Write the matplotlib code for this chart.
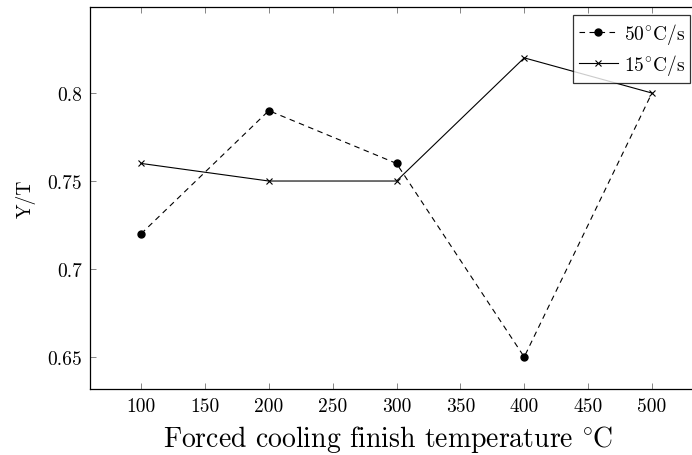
import numpy as np
import matplotlib
matplotlib.use("Agg")
import matplotlib.pyplot as plt

# data
temps = [100, 200, 300, 400, 500]
ratio_50 = [0.72, 0.79, 0.76, 0.65, 0.80]
ratio_15 = [0.76, 0.75, 0.75, 0.82, 0.80]
xticks = [100, 150, 200, 250, 300, 350, 400, 450, 500]
yticks = [0.65, 0.7, 0.75, 0.8]
ytick_labels = ["0.65", "0.7", "0.75", "0.8"]

plt.rcParams["font.family"] = ["cmr10", "DejaVu Serif"]
plt.rcParams["mathtext.fontset"] = "cm"
plt.rcParams["axes.formatter.use_mathtext"] = True

fig = plt.figure(figsize=(6.92, 4.56), dpi=100)
# right part of the axes is cut off in the reference
ax = fig.add_axes([90 / 692, 66 / 456, 613 / 692, 382 / 456])

# the last 50C/s point shows no dot in the reference
ax.plot(
    temps, ratio_50, color="black", linestyle=(0, (5, 4)), linewidth=0.8,
    marker="o", markersize=5, markevery=[0, 1, 2, 3],
    label=r"$\mathrm{50}^{\!\circ}\!\mathrm{C/s}$",
)
ax.plot(
    temps, ratio_15, color="black", linestyle="-", linewidth=0.8,
    marker="x", markersize=5, markeredgewidth=0.8,
    label=r"$\mathrm{15}^{\!\circ}\!\mathrm{C/s}$",
)

ax.set_xlim(60, 540)
ax.set_ylim(0.6318, 0.8489)
ax.set_xticks(xticks)
ax.set_xticklabels([str(t) for t in xticks])
ax.set_yticks(yticks)
ax.set_yticklabels(ytick_labels)
ax.tick_params(direction="in", length=4, width=0.5, color="#555555",
               labelsize=14, top=True, right=True, pad=6)
for s in ax.spines.values():
    s.set_linewidth(0.9)

ax.set_xlabel(r"Forced cooling finish temperature $^{\circ}\hspace{-0.08}\mathrm{C}$",
              fontsize=20)
ax.xaxis.set_label_coords((388 - 90) / 613, -0.088)
ax.set_ylabel("Y/T", fontsize=14, labelpad=8)

leg = ax.legend(loc="upper left", bbox_to_anchor=(483 / 613, 1 - 8 / 382),
                fontsize=14, frameon=True, fancybox=False, edgecolor="black",
                handlelength=2.0, handletextpad=0.3, borderpad=0.3,
                labelspacing=0.3, borderaxespad=0)
leg.get_frame().set_linewidth(0.9)

fig.savefig("out.png", dpi=100)
